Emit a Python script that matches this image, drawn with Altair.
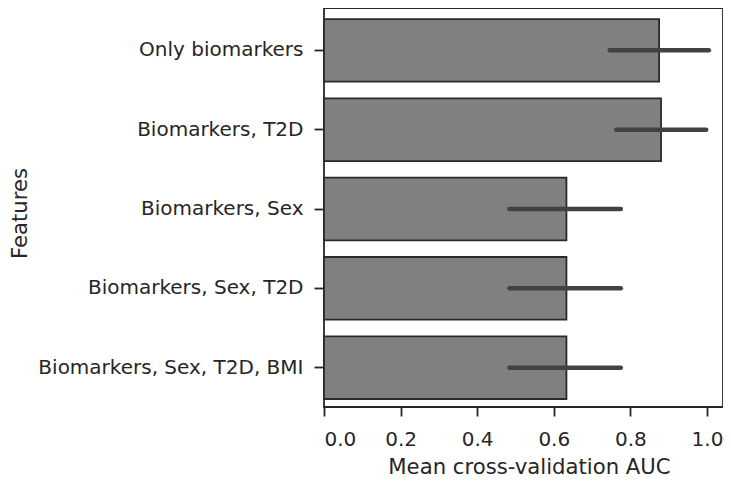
import altair as alt
import pandas as pd

features = [
    "Only biomarkers",
    "Biomarkers, T2D",
    "Biomarkers, Sex",
    "Biomarkers, Sex, T2D",
    "Biomarkers, Sex, T2D, BMI",
]
mean_auc = [0.875, 0.880, 0.633, 0.633, 0.633]
ci_low = [0.746, 0.763, 0.484, 0.484, 0.484]
ci_high = [1.005, 0.998, 0.775, 0.775, 0.775]

df = pd.DataFrame({"feature": features, "auc": mean_auc, "lo": ci_low, "hi": ci_high})

TXT = "#262626"
FONT = "DejaVu Sans"

y_enc = alt.Y(
    "feature:N",
    sort=features,
    scale=alt.Scale(paddingInner=0.21, paddingOuter=0.12, align=0.58),
    axis=alt.Axis(
        title="Features",
        titleX=-298,
        titleY=205,
        titleAngle=-90,
        titleAlign="center",
        titleBaseline="alphabetic",
        labelPadding=11,
        labelLimit=500,
    ),
)

bars = alt.Chart(df).mark_bar(
    fill="#808080", stroke="#2a2a2a", strokeWidth=1.8
).encode(
    x=alt.X(
        "auc:Q",
        scale=alt.Scale(domain=[0, 1.0418], nice=False, zero=True),
        axis=alt.Axis(
            title="Mean cross-validation AUC",
            values=[0, 0.2, 0.4, 0.6, 0.8, 1.0],
            format=".1f",
            labelPadding=13,
            tickSize=9,
            titleX=205,
            titleY=66,
            titleBaseline="alphabetic",
        ),
    ),
    y=y_enc,
)

err = alt.Chart(df).mark_rule(
    color="#424242", strokeWidth=4.5, strokeCap="round"
).encode(
    x="lo:Q",
    x2="hi:Q",
    y=alt.Y("feature:N", sort=features),
)

chart = (
    alt.layer(bars, err)
    .properties(
        width=399,
        height=399,
        autosize=alt.AutoSizeParams(type="none"),
        padding={"left": 316, "top": 0, "right": 0, "bottom": 71},
    )
    .configure_view(stroke=TXT, strokeWidth=1.8)
    .configure_axis(
        grid=False,
        domain=False,
        labelFont=FONT,
        labelFontSize=20,
        labelColor=TXT,
        titleFont=FONT,
        titleFontSize=21.2,
        titleFontWeight="normal",
        titleColor=TXT,
        tickSize=10,
        tickWidth=1.8,
        tickColor=TXT,
    )
)

chart.save("out.html", embed_options={"renderer": "svg", "actions": False})
